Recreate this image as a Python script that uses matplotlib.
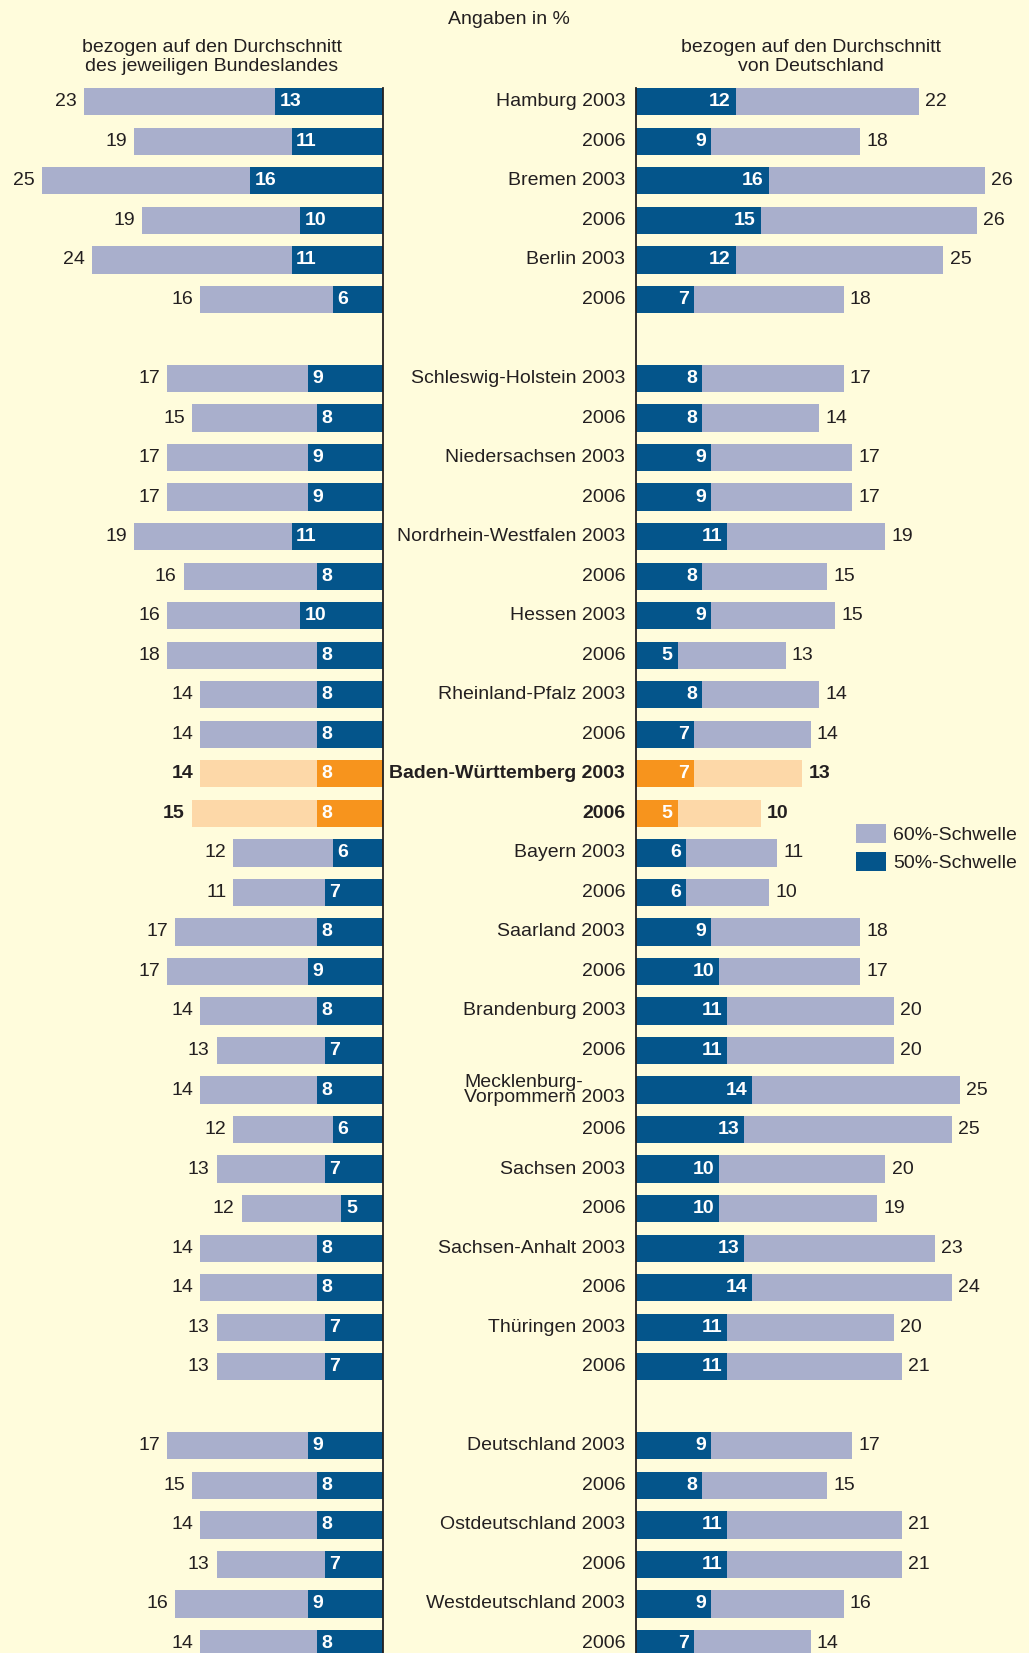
import matplotlib
matplotlib.use("Agg")
import matplotlib.pyplot as plt
from matplotlib import font_manager
from matplotlib.patches import Patch
import numpy as np

# ---- data (Angaben in %) ----
labels = [
    "Hamburg 2003", "2006", "Bremen 2003", "2006", "Berlin 2003", "2006",
    "Schleswig-Holstein 2003", "2006", "Niedersachsen 2003", "2006",
    "Nordrhein-Westfalen 2003", "2006", "Hessen 2003", "2006",
    "Rheinland-Pfalz 2003", "2006", "Baden-Württemberg 2003", "2006",
    "Bayern 2003", "2006", "Saarland 2003", "2006", "Brandenburg 2003", "2006",
    "Mecklenburg-\nVorpommern 2003", "2006", "Sachsen 2003", "2006",
    "Sachsen-Anhalt 2003", "2006", "Thüringen 2003", "2006",
    "Deutschland 2003", "2006", "Ostdeutschland 2003", "2006",
    "Westdeutschland 2003", "2006",
]
# bezogen auf den Durchschnitt des jeweiligen Bundeslandes
land_60 = [23, 19, 25, 19, 24, 16,
           17, 15, 17, 17, 19, 16, 16, 18, 14, 14, 14, 15, 12, 11, 17, 17,
           14, 13, 14, 12, 13, 12, 14, 14, 13, 13,
           17, 15, 14, 13, 16, 14]
land_50 = [13, 11, 16, 10, 11, 6,
           9, 8, 9, 9, 11, 8, 10, 8, 8, 8, 8, 8, 6, 7, 8, 9,
           8, 7, 8, 6, 7, 5, 8, 8, 7, 7,
           9, 8, 8, 7, 9, 8]
# bezogen auf den Durchschnitt von Deutschland
de_60 = [22, 18, 26, 26, 25, 18,
         17, 14, 17, 17, 19, 15, 15, 13, 14, 14, 13, 10, 11, 10, 18, 17,
         20, 20, 25, 25, 20, 19, 23, 24, 20, 21,
         17, 15, 21, 21, 16, 14]
de_50 = [12, 9, 16, 15, 12, 7,
         8, 8, 9, 9, 11, 8, 9, 5, 8, 7, 7, 5, 6, 6, 9, 10,
         11, 11, 14, 13, 10, 10, 13, 14, 11, 11,
         9, 8, 11, 11, 9, 7]
group_sizes = [6, 26, 6]
highlight = {16, 17}  # Baden-Württemberg

# ---- style ----
BG = "#FFFCDC"
LIGHT = "#A9AFCC"
DARK = "#04558B"
ORANGE = "#F7941D"
LIGHT_ORANGE = "#FDD8A8"
TXT = "#231F20"

names = {f.name for f in font_manager.fontManager.ttflist}
FONT = "Liberation Sans Narrow" if "Liberation Sans Narrow" in names else "Liberation Sans"
plt.rcParams["font.family"] = [FONT, "DejaVu Sans"]
FS = 14

# row positions with one blank row between groups
ypos = []
r = 0
for g in group_sizes:
    ypos.extend(range(r, r + g))
    r += g + 1
ypos = np.array(ypos)

W, H = 1029, 1653
fig = plt.figure(figsize=(W / 100, H / 100), dpi=100, facecolor=BG)

px_per_unit = 8.31
row_px = 39.53
row0_px = 101.8
ytop = -row0_px / row_px
ybot = (H - row0_px) / row_px

left_x1 = 383
right_x0 = 636
axL = fig.add_axes([0, 0, left_x1 / W, 1])
axR = fig.add_axes([right_x0 / W, 0, (W - right_x0) / W, 1])
axL.set_xlim(left_x1 / px_per_unit, 0)
axR.set_xlim(0, (W - right_x0) / px_per_unit)
for ax in (axL, axR):
    ax.set_ylim(ybot, ytop)
    ax.set_facecolor(BG)
    ax.axis("off")

# the 60% segment is stacked on top of the 50% segment
bh = 0.69
for i, y in enumerate(ypos):
    hl = i in highlight
    c60 = LIGHT_ORANGE if hl else LIGHT
    c50 = ORANGE if hl else DARK
    weight = "bold" if hl else "normal"

    axL.barh(y, land_50[i], height=bh, color=c50, linewidth=0)
    axL.barh(y, land_60[i], left=land_50[i], height=bh, color=c60, linewidth=0)
    axL.text(land_50[i] + land_60[i] + 0.85, y, str(land_60[i]), ha="right",
             va="center", fontsize=FS, color=TXT, fontweight=weight)
    axL.text(land_50[i] - 0.55, y, str(land_50[i]), ha="left", va="center",
             fontsize=FS, color="white", fontweight="bold")

    axR.barh(y, de_50[i], height=bh, color=c50, linewidth=0)
    axR.barh(y, de_60[i], left=de_50[i], height=bh, color=c60, linewidth=0)
    axR.text(de_50[i] + de_60[i] + 0.75, y, str(de_60[i]), ha="left",
             va="center", fontsize=FS, color=TXT, fontweight=weight)
    axR.text(de_50[i] - 0.6, y, str(de_50[i]), ha="right", va="center",
             fontsize=FS, color="white", fontweight="bold")

    axR.text(-1.3, y, labels[i], ha="right", va="center", fontsize=FS,
             color=TXT, fontweight=weight, multialignment="left",
             linespacing=0.9, clip_on=False)

for ax in (axL, axR):
    ax.plot([0, 0], [-bh / 2, ybot], color=TXT, lw=1.3, clip_on=False)

# header texts
fig.text(509 / W, 1 - 19 / H, "Angaben in %", ha="center", va="center",
         fontsize=FS, color=TXT)
fig.text(212 / W, 1 - 57 / H, "bezogen auf den Durchschnitt\ndes jeweiligen Bundeslandes",
         ha="center", va="center", fontsize=FS, color=TXT, linespacing=1.2)
fig.text(811 / W, 1 - 57 / H, "bezogen auf den Durchschnitt\nvon Deutschland",
         ha="center", va="center", fontsize=FS, color=TXT, linespacing=1.2)

handles = [Patch(facecolor=LIGHT, edgecolor="none", label="60%-Schwelle"),
           Patch(facecolor=DARK, edgecolor="none", label="50%-Schwelle")]
fig.legend(handles=handles, loc="upper left", bbox_to_anchor=(856 / W, 1 - 824 / H),
           frameon=False, fontsize=FS, handlelength=1.52, handleheight=1.13,
           handletextpad=0.4, labelspacing=0.42, borderpad=0, borderaxespad=0,
           labelcolor=TXT)

fig.savefig("out.png", dpi=100, facecolor=BG)
